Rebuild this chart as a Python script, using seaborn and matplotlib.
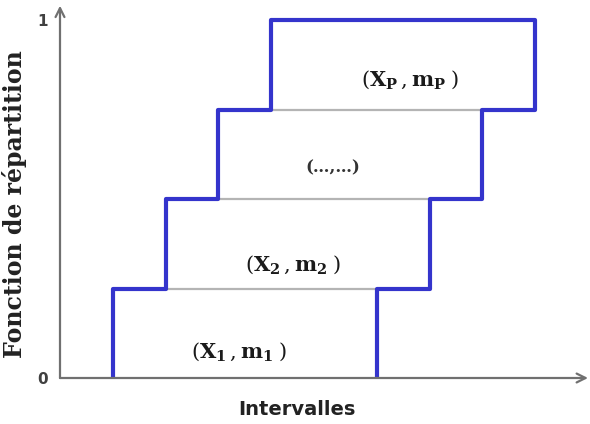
import pandas as pd
import seaborn as sns
import matplotlib
matplotlib.use("Agg")
import matplotlib.pyplot as plt

# bornes des intervalles (gauche / droite) et niveaux de la fonction de repartition
left_edges = [1, 2, 3, 4]
right_edges = [6, 7, 8, 9]
levels = [0, 0.25, 0.5, 0.75, 1]

labels = [r"$(\mathbf{X_1}\,,\mathbf{m_1}\;)$", r"$(\mathbf{X_2}\,,\mathbf{m_2}\;)$",
          "(…,…)", r"$(\mathbf{X_P}\,,\mathbf{m_P}\;)$"]
label_x = [3.4, 4.42, 5.17, 6.63]
label_y = [0.073, 0.316, 0.587, 0.832]

sns.set_theme(style="white")
plt.rcParams["mathtext.fontset"] = "custom"
plt.rcParams["mathtext.rm"] = "DejaVu Serif"
plt.rcParams["mathtext.bf"] = "DejaVu Serif:bold"
plt.rcParams["font.family"] = ["DejaVu Sans"]

# contour en escalier : montee par la gauche, descente par la droite
xs, ys = [], []
for i, x in enumerate(left_edges):
    xs += [x, x]
    ys += [levels[i], levels[i + 1]]
for i in range(len(right_edges) - 1, -1, -1):
    xs += [right_edges[i], right_edges[i]]
    ys += [levels[i + 1], levels[i]]
outline = pd.DataFrame({"x": xs, "y": ys, "ordre": range(len(xs))})

fig = plt.figure(figsize=(5.9, 4.24), dpi=100)
ax = fig.add_axes([60 / 590, 46 / 424, 528 / 590, 1.04 * 358 / 424])

# separations grises entre les boites
for i in range(1, len(levels) - 1):
    ax.plot([left_edges[i], right_edges[i - 1]], [levels[i], levels[i]],
            color="#b4b4b4", lw=1.6, zorder=1)

sns.lineplot(data=outline, x="x", y="y", sort=False, estimator=None,
             color="#3434cc", lw=3, ax=ax, zorder=3)

for t, x, y in zip(labels, label_x, label_y):
    small = t.startswith("(…")
    ax.text(x, y, t, ha="center", va="center",
            fontsize=12 if small else 15,
            color="#333333" if small else "#1a1a1a",
            family="DejaVu Serif", weight="bold")

ax.set_xlim(0, 10)
ax.set_ylim(0, 1.04)
for s in ax.spines.values():
    s.set_visible(False)

# axes avec fleches
arrow = dict(arrowstyle="->", color="#707070", lw=1.6, mutation_scale=16,
             shrinkA=0, shrinkB=0)
ax.annotate("", xy=(10, 0), xytext=(0, 0), arrowprops=arrow, annotation_clip=False)
ax.annotate("", xy=(0, 1.04), xytext=(0, 0), arrowprops=arrow, annotation_clip=False)

ax.set_xticks([])
ax.set_yticks([0, 1])
ax.set_yticklabels(["0", "1"], fontsize=11, weight="bold", color="#404040")
ax.tick_params(axis="y", length=0, pad=9)

ax.set_xlabel("Intervalles", fontsize=14, weight="bold", color="#222222")
ax.xaxis.set_label_coords(0.449, -0.059)
ax.set_ylabel("Fonction de répartition", fontsize=17, weight="bold",
              family="DejaVu Serif", color="#222222")
ax.yaxis.set_label_coords(-0.0625, 0.467)

fig.savefig("out.png", dpi=100)
